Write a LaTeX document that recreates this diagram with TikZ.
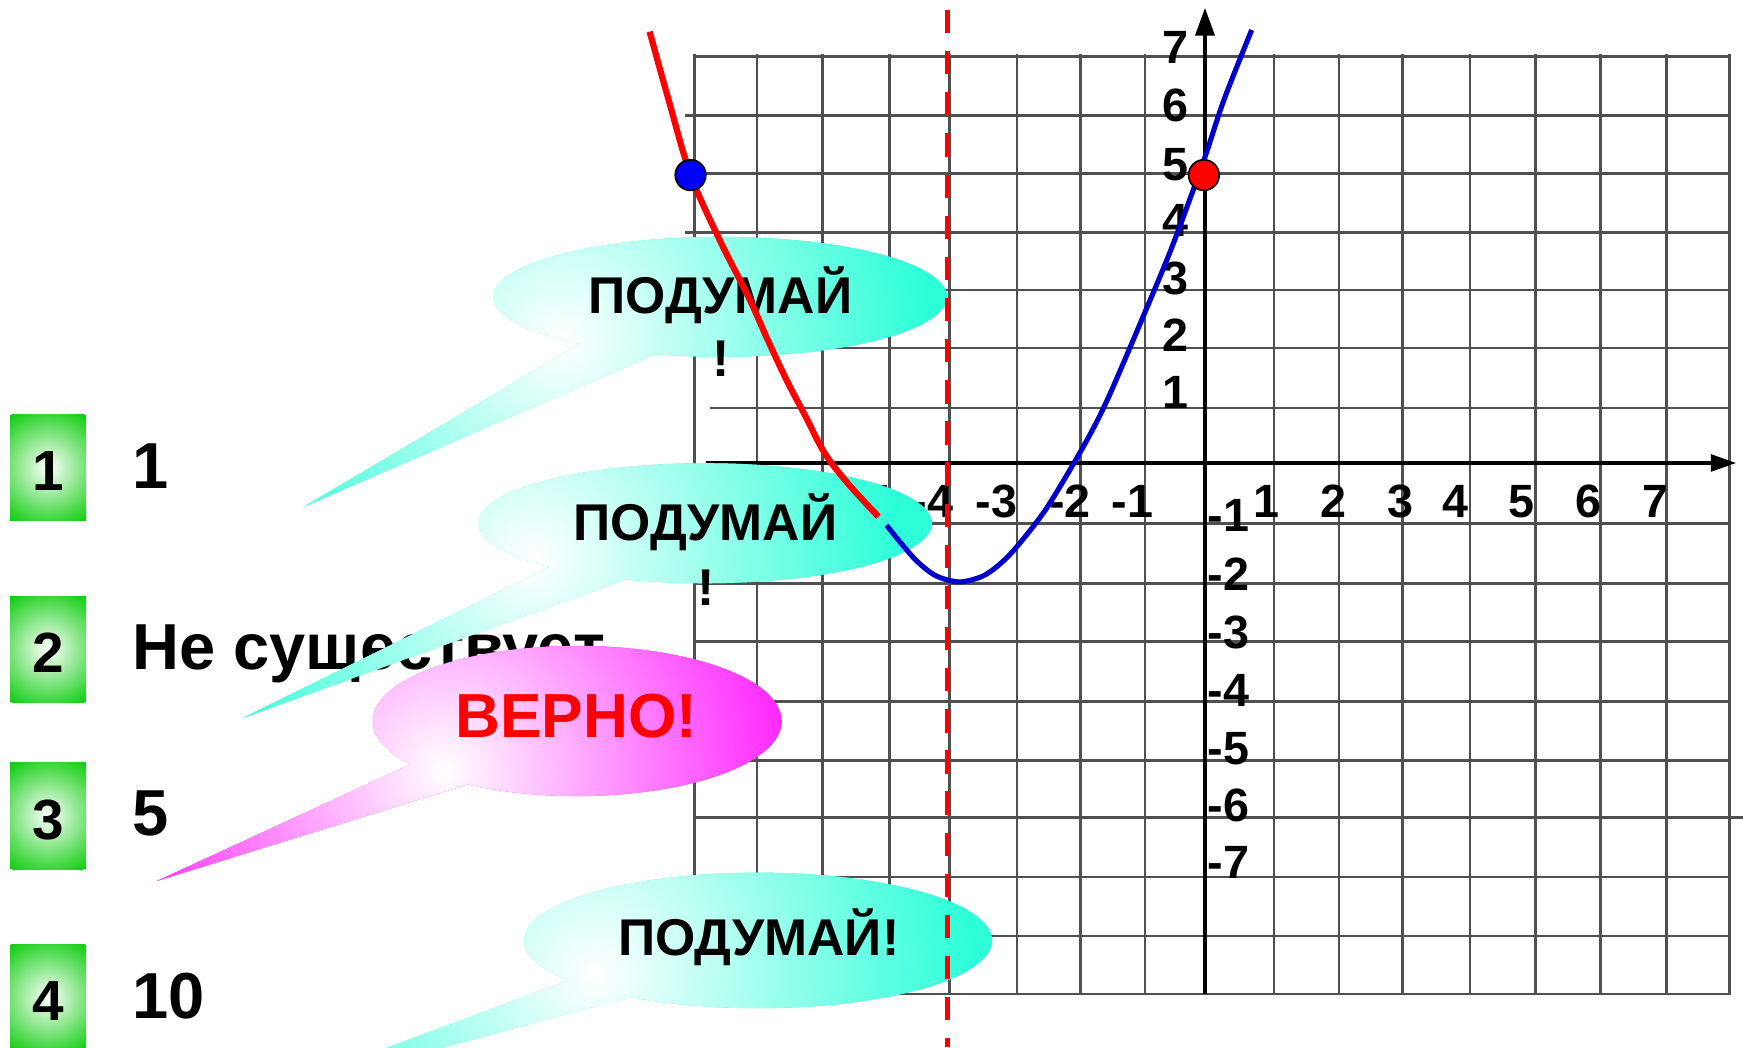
\documentclass[tikz,border=0pt]{standalone}
\usepackage{fontspec}
\setmainfont{Liberation Sans}
\usetikzlibrary{arrows.meta}
\definecolor{gridc}{RGB}{80,80,80}
\definecolor{turq}{RGB}{44,255,216}
\definecolor{magen}{RGB}{255,45,255}
\definecolor{grn}{RGB}{15,205,15}
\definecolor{bluecurve}{RGB}{0,0,204}
\definecolor{pured}{RGB}{255,0,0}
% #1 ellipse centre, #2 rx, #3 ry, #4 angle of lower tail base, #5 angle of upper tail base,
% #6 tail tip, #7 shading centre, #8 shading radius, #9 colour
\newcommand\mycallout[9]{%
  \begin{scope}
    \clip (#1) ++(#4:#2 and #3)
      arc[start angle=#4, end angle={#5-360}, x radius=#2, y radius=#3]
      -- (#6) -- cycle;
    \fill[#9] (0,0) rectangle (1568,1100);
    \shade[inner color=white, outer color=#9] (#7) circle (#8);
  \end{scope}}
\begin{document}
\begin{tikzpicture}[x=1pt,y=-1pt,
  gridline/.style={draw=gridc, line width=2.3pt},
  axisline/.style={draw=black, line width=3.4pt},
  lbl/.style={font=\fontsize{42pt}{42pt}\selectfont\bfseries, inner sep=0pt, anchor=base},
  bub/.style={font=\fontsize{46.5pt}{46.5pt}\selectfont\bfseries, inner sep=0pt, anchor=base},
  ans/.style={font=\fontsize{58.5pt}{58.5pt}\selectfont\bfseries, inner sep=0pt, anchor=base west},
  sqnum/.style={font=\fontsize{51pt}{51pt}\selectfont\bfseries, inner sep=0pt, anchor=base},
  dot/.style={circle, draw=black, line width=1.5pt, minimum size=27.5pt, inner sep=0pt}
]
\useasboundingbox (0,0) rectangle (1568,942);
\clip (0,0) rectangle (1568,942);
\fill[white] (0,0) rectangle (1568,942);

% answer squares
\foreach \n/\yt/\yb/\bl in {1/373/468.4/441.4, 2/536.3/631.6/605.2, 3/685.6/782/755.2, 4/849.7/945/917.9}{
  \begin{scope}
    \clip (9,\yt) rectangle (77.5,\yb);
    \fill[grn] (9,\yt) rectangle (77.5,\yb);
    \shade[inner color=white, outer color=grn] (43.25,{(\yt+\yb)/2}) circle (58);
  \end{scope}
  \node[sqnum] (sq\n) at (43.4,\bl) {\n};
}
\node[ans] (a1) at (119,439.5) {1};
\node[ans] (a2) at (119,602) {Не существует};
\node[ans] (a3) at (119,751.5) {5};
\node[ans] (a4) at (119,916) {10};

% grid
\foreach \xx in {625,681,740,800,854,915,972,1030,1146,1204.5,1261.5,1322.5,1381.5,1440,1499,1556}
  \draw[gridline] (\xx,49) -- (\xx,895);
\foreach \yy in {51,156,261,313,471,525,577,631,684,789,842,894}
  \draw[gridline] (625,\yy) -- (1556,\yy);
\draw[gridline] (616,104) -- (1556,104);
\draw[gridline] (616,209) -- (1556,209);
\draw[gridline] (639,367) -- (1556,367);
\draw[gridline] (625,735.5) -- (1568,735.5);

% axes
\draw[axisline, -{Triangle[length=23pt,width=15pt]}] (635,416.5) -- (1562,416.5);
\draw[axisline, -{Triangle[length=25pt,width=17pt]}] (1084,894) -- (1084,7);

% axis labels
\foreach \v/\yy in {7/57,6/109.5,5/162,4/212.9,3/265.3,2/316.4,1/367.4}
  \node[lbl] (ly\v) at (1057,\yy) {\v};
\foreach \v/\yy in {1/478.5,2/531.6,3/583,4/636,5/687.5,6/738.8,7/790.2}
  \node[lbl] (lyn\v) at (1105,\yy) {-\v};
\foreach \v/\xx in {1/1139,2/1200,3/1260,4/1309,5/1368.5,6/1429,7/1489.5}
  \node[lbl] (lx\v) at (\xx,465.5) {\v};
\foreach \v/\xx in {1/1019,2/962.6,3/896.6,4/839,5/782}
  \node[lbl] (lxn\v) at (\xx,465.5) {-\v};

% callouts
\mycallout{648,267}{204}{54}{106.72}{128.45}{273,456}{505,306}{330}{turq}
\mycallout{634.5,470.7}{204}{54}{110.51}{133.42}{218,646}{480,502}{330}{turq}
\mycallout{519.3,648.6}{184}{67.6}{122.41}{144.75}{140.6,792.7}{400,692}{300}{magen}
\mycallout{682,846}{210.6}{61}{123.36}{144.0}{215,992}{535,875}{340}{turq}

\node[bub] (t1a) at (648,282) {ПОДУМАЙ};
\node[bub] (t1b) at (649,339) {!};
\node[bub] (t2a) at (634.5,486) {ПОДУМАЙ};
\node[bub] (t2b) at (635,545) {!};
\node[bub, font=\fontsize{56pt}{56pt}\selectfont\bfseries, text=pured] (t3) at (518.5,663.4) {ВЕРНО!};
\node[bub] (t4) at (682.6,859.3) {ПОДУМАЙ!};

% curves
\draw[pured, line width=5.6pt] plot[smooth, tension=0.6] coordinates {
  (584.4,28.5) (601.5,90) (621.2,157) (647,215) (673.2,266.9) (690.7,305.9)
  (707.6,341.9) (724.8,374.8) (742,407.8) (762.7,434.8) (790.2,464.8)};
\draw[bluecurve, line width=4.6pt] plot[smooth, tension=0.5] coordinates {
  (797.5,472.5) (810,488) (825,505) (842,518) (863,523.5) (884,518.3)
  (900,507) (915,491.5) (941.6,457) (975,401) (996,360) (1027,288)
  (1054,223) (1082,147) (1101,90) (1126,27)};

% axis of symmetry
\draw[pured, line width=4.8pt, dash pattern=on 21pt off 16pt] (852.5,9) -- (852.5,942);

% points
\node[dot, fill=blue] (bluedot) at (621.2,157.5) {};
\node[dot, fill=pured] (reddot) at (1083,157.5) {};
\end{tikzpicture}
\end{document}
